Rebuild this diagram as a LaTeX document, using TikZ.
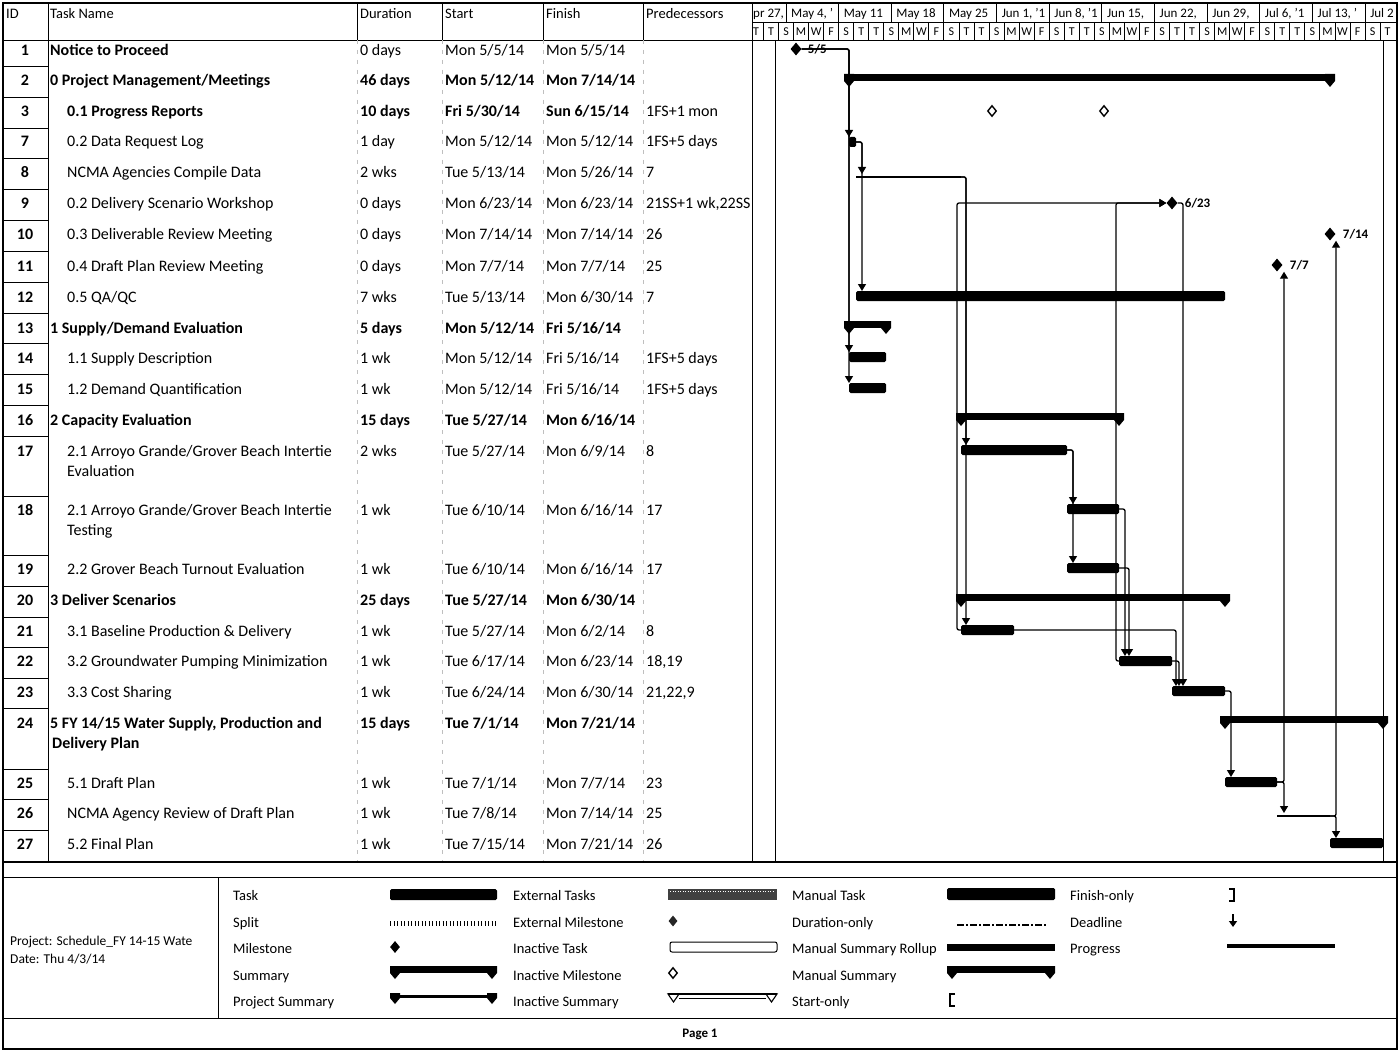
\documentclass[tikz,border=0pt]{standalone}
\usepackage{fontspec}
\setmainfont{Carlito}
\usepackage{tikz}
\usetikzlibrary{shapes.geometric,arrows.meta}

% one table row: id, y, name x, style, name, duration, start, finish, predecessors
\newcommand{\taskrow}[9]{%
  \node[idtxt] (id#1) at (25,#2+5) {#1};
  \node[#4] (name#1) at (#3,#2+5) {#5};
  \node[#4] (dur#1) at (360,#2+5) {#6};
  \node[#4] (start#1) at (445,#2+5) {#7};
  \node[#4] (fin#1) at (546,#2+5) {#8};
  \node[cell] (pred#1) at (646,#2+5) {#9};}
% task bar: name, y, start x, finish x
\newcommand{\taskbar}[4]{%
  \fill[taskbar] (#3,#2-5) rectangle (#4,#2+5);
  \coordinate (#1s) at (#3,#2-5);
  \coordinate (#1w) at (#3,#2);
  \coordinate (#1e) at (#4,#2);}
\newcommand{\thinbar}[4]{%
  \draw[thinbar] (#3,#2) -- (#4,#2);
  \coordinate (#1s) at (#3,#2-3);
  \coordinate (#1e) at (#4,#2);}
% summary bar: y, start x, finish x
\newcommand{\sumbar}[3]{%
  \fill (#2,#1-4) rectangle (#3,#1+3);
  \fill (#2-5,#1-4) -- (#2+5,#1-4) -- (#2+5,#1+3) -- (#2,#1+9) -- (#2-5,#1+3) -- cycle;
  \fill (#3-5,#1-4) -- (#3+5,#1-4) -- (#3+5,#1+3) -- (#3,#1+9) -- (#3-5,#1+3) -- cycle;}

\begin{document}
\begin{tikzpicture}[x=1pt, y=-1pt,
    cell/.style={anchor=base west, inner sep=0pt, font=\fontsize{16}{19}\selectfont},
    bcell/.style={cell, font=\fontsize{16}{19}\selectfont\bfseries},
    idtxt/.style={anchor=base, inner sep=0pt, font=\fontsize{16}{19}\selectfont\bfseries},
    head/.style={anchor=base west, inner sep=0pt, font=\fontsize{14.5}{17}\selectfont},
    tier/.style={anchor=base west, inner sep=0pt, font=\fontsize{13}{15}\selectfont},
    dayl/.style={anchor=base, inner sep=0pt, font=\fontsize{12}{14}\selectfont},
    legtxt/.style={anchor=base west, inner sep=0pt, font=\fontsize{14.5}{17}\selectfont},
    foot/.style={anchor=base west, inner sep=0pt, font=\fontsize{13.5}{16}\selectfont},
    mlabel/.style={anchor=west, inner sep=0pt, font=\fontsize{13}{15}\selectfont\bfseries},
    taskbar/.style={fill=black, rounded corners=1.5pt},
    thinbar/.style={line width=2.4pt},
    link/.style={line width=1.3pt, rounded corners=2pt, -{Triangle[width=8pt,length=7pt]}},
    mile/.style={diamond, fill=black, inner sep=0pt, minimum width=11pt, minimum height=13pt},
    inmile/.style={diamond, draw, line width=1.4pt, inner sep=0pt, minimum width=9pt, minimum height=11pt},
    heavy/.style={line width=1.8pt},
    rule/.style={line width=0.9pt},
    faint/.style={gray!50, line width=0.5pt, dash pattern=on 4pt off 6pt}
]
    \path[use as bounding box, fill=white] (0,0) rectangle (1400,1051);

    % Frame and grid
    \draw[heavy] (3,3) rectangle (1397,1049);
    \draw[rule] (3,40) -- (1397,40);
    \draw[rule] (752,22) -- (1397,22);
    \foreach \cx in {357,442,543,643} \draw[rule] (\cx,3) -- (\cx,40);
    \foreach \cx in {357,442,543,643} \draw[faint] (\cx,40) -- (\cx,862);
    \draw[rule] (48,3) -- (48,862);
    \draw[rule] (752,3) -- (752,862);
    \draw[rule] (775,40) -- (775,862);
    \draw[rule] (1383,40) -- (1383,862);
    \foreach \yy in {66,97,128,158,189,220,251,282,313,343,374,405,436,496,555,586,617,647,678,708,769,799,830}
        \draw[rule] (3,\yy) -- (48,\yy);
    \draw[heavy] (3,862) -- (1397,862);
    \draw[rule] (3,877) -- (1397,877);
    \draw[rule] (218,877) -- (218,1018);
    \draw[rule] (3,1018) -- (1397,1018);

    % Header
    \node[head] (hid) at (6,19) {ID};
    \node[head] (hname) at (50,19) {Task Name};
    \node[head] (hdur) at (360,19) {Duration};
    \node[head] (hstart) at (445,19) {Start};
    \node[head] (hfin) at (546,19) {Finish};
    \node[head] (hpred) at (646,19) {Predecessors};

    % Timescale
    \begin{scope}
        \clip (752,3) rectangle (1397,40);
        \node[tier] (wkA) at (753,18) {pr 27,};
        \foreach \wk [count=\k from 0] in {{May 4, '},{May 11},{May 18},{May 25},{Jun 1, '1},{Jun 8, '1},{Jun 15,},{Jun 22,},{Jun 29,},{Jul 6, '1},{Jul 13, '},{Jul 2}} {
            \draw[rule] ({786+52.64*\k},3) -- ({786+52.64*\k},22);
            \node[tier] (wk\k) at ({791+52.64*\k},18) {\wk};
        }
        \foreach \lt [count=\j from 0] in {T,T,S,M,W,F,S,T,T,S,M,W,F,S,T,T,S,M,W,F,S,T,T,S,M,W,F,S,T,T,S,M,W,F,S,T,T,S,M,W,F,S,T} {
            \draw[rule] ({786+7.52*(2*\j-5)},22) -- ++(0,18);
            \node[dayl] (dy\j) at ({786+7.52*(2*\j-4)},36) {\lt};
        }
    \end{scope}

    % Table rows
    \taskrow{1}{51}{50}{cell}{\bfseries Notice to Proceed}{0 days}{Mon 5/5/14}{Mon 5/5/14}{}
    \taskrow{2}{81}{50}{bcell}{0 Project Management/Meetings}{46 days}{Mon 5/12/14}{Mon 7/14/14}{}
    \taskrow{3}{112}{67}{bcell}{0.1 Progress Reports}{10 days}{Fri 5/30/14}{Sun 6/15/14}{1FS+1 mon}
    \taskrow{7}{142}{67}{cell}{0.2 Data Request Log}{1 day}{Mon 5/12/14}{Mon 5/12/14}{1FS+5 days}
    \taskrow{8}{173}{67}{cell}{NCMA Agencies Compile Data}{2 wks}{Tue 5/13/14}{Mon 5/26/14}{7}
    \taskrow{9}{204}{67}{cell}{0.2 Delivery Scenario Workshop}{0 days}{Mon 6/23/14}{Mon 6/23/14}{21SS+1 wk,22SS}
    \taskrow{10}{235}{67}{cell}{0.3 Deliverable Review Meeting}{0 days}{Mon 7/14/14}{Mon 7/14/14}{26}
    \taskrow{11}{266}{67}{cell}{0.4 Draft Plan Review Meeting}{0 days}{Mon 7/7/14}{Mon 7/7/14}{25}
    \taskrow{12}{297}{67}{cell}{0.5 QA/QC}{7 wks}{Tue 5/13/14}{Mon 6/30/14}{7}
    \taskrow{13}{328}{50}{bcell}{1 Supply/Demand Evaluation}{5 days}{Mon 5/12/14}{Fri 5/16/14}{}
    \taskrow{14}{358}{67}{cell}{1.1 Supply Description}{1 wk}{Mon 5/12/14}{Fri 5/16/14}{1FS+5 days}
    \taskrow{15}{389}{67}{cell}{1.2 Demand Quantification}{1 wk}{Mon 5/12/14}{Fri 5/16/14}{1FS+5 days}
    \taskrow{16}{420}{50}{bcell}{2 Capacity Evaluation}{15 days}{Tue 5/27/14}{Mon 6/16/14}{}
    \taskrow{17}{451}{67}{cell}{2.1 Arroyo Grande/Grover Beach Intertie}{2 wks}{Tue 5/27/14}{Mon 6/9/14}{8}
    \node[cell] (name17b) at (67,476) {Evaluation};
    \taskrow{18}{510}{67}{cell}{2.1 Arroyo Grande/Grover Beach Intertie}{1 wk}{Tue 6/10/14}{Mon 6/16/14}{17}
    \node[cell] (name18b) at (67,535) {Testing};
    \taskrow{19}{569}{67}{cell}{2.2 Grover Beach Turnout Evaluation}{1 wk}{Tue 6/10/14}{Mon 6/16/14}{17}
    \taskrow{20}{600}{50}{bcell}{3 Deliver Scenarios}{25 days}{Tue 5/27/14}{Mon 6/30/14}{}
    \taskrow{21}{631}{67}{cell}{3.1 Baseline Production \& Delivery}{1 wk}{Tue 5/27/14}{Mon 6/2/14}{8}
    \taskrow{22}{661}{67}{cell}{3.2 Groundwater Pumping Minimization}{1 wk}{Tue 6/17/14}{Mon 6/23/14}{18,19}
    \taskrow{23}{692}{67}{cell}{3.3 Cost Sharing}{1 wk}{Tue 6/24/14}{Mon 6/30/14}{21,22,9}
    \taskrow{24}{723}{50}{bcell}{5 FY 14/15 Water Supply, Production and}{15 days}{Tue 7/1/14}{Mon 7/21/14}{}
    \node[bcell] (name24b) at (52,748) {Delivery Plan};
    \taskrow{25}{783}{67}{cell}{5.1 Draft Plan}{1 wk}{Tue 7/1/14}{Mon 7/7/14}{23}
    \taskrow{26}{813}{67}{cell}{NCMA Agency Review of Draft Plan}{1 wk}{Tue 7/8/14}{Mon 7/14/14}{25}
    \taskrow{27}{844}{67}{cell}{5.2 Final Plan}{1 wk}{Tue 7/15/14}{Mon 7/21/14}{26}

    % Summary bars
    \sumbar{78}{849}{1330}
    \sumbar{325}{849}{886}
    \sumbar{417}{961}{1119}
    \sumbar{598}{961}{1225}
    \sumbar{720}{1225}{1383}

    % Task bars
    \taskbar{t7}{142}{849}{856}
    \thinbar{t8}{177}{856}{961}
    \taskbar{t12}{296}{856}{1225}
    \taskbar{t14}{357}{849}{886}
    \taskbar{t15}{388}{849}{886}
    \taskbar{t17}{450}{961}{1067}
    \taskbar{t18}{509}{1067}{1119}
    \taskbar{t19}{568}{1067}{1119}
    \taskbar{t21}{630}{961}{1014}
    \taskbar{t22}{661}{1119}{1172}
    \taskbar{t23}{691}{1172}{1225}
    \taskbar{t25}{782}{1225}{1277}
    \thinbar{t26}{816}{1277}{1330}
    \taskbar{t27}{843}{1330}{1383}

    % Milestones
    \node[mile] (m1) at (796,49) {};
    \node[mile] (m9) at (1172,203) {};
    \node[mile] (m10) at (1330,234) {};
    \node[mile] (m11) at (1277,265) {};
    \node[inmile] (m3a) at (992,111) {};
    \node[inmile] (m3b) at (1104,111) {};

    % Links
    \draw[link] (m1.east) -| (t7s);
    \draw[link] (m1.east) -| (t14s);
    \draw[link] (m1.east) -| (t15s);
    \draw[link] (t7e) -| ([xshift=6pt]t8s);
    \draw[link] (t7e) -| ([xshift=6pt]t12s);
    \draw[link] (t8e) -| ([xshift=5pt]t17s);
    \draw[link] (t8e) -| ([xshift=5pt]t21s);
    \draw[link] (t21w) -- ++(-4,0) |- (m9.west);
    \draw[link] (t22w) -- ++(-3,0) |- (m9.west);
    \draw[link] (m9.east) -| ([xshift=11pt]t23s);
    \draw[link] (t21e) -| ([xshift=4pt]t23s);
    \draw[link] (t22e) -| ([xshift=7pt]t23s);
    \draw[link] (t17e) -| ([xshift=6pt]t18s);
    \draw[link] (t17e) -| ([xshift=6pt]t19s);
    \draw[link] (t18e) -| ([xshift=6pt]t22s);
    \draw[link] (t19e) -| ([xshift=10pt]t22s);
    \draw[link] (t23e) -| ([xshift=6pt]t25s);
    \draw[link] (t25e) -| ([xshift=7pt]t26s);
    \draw[link] (t25e) -| ([xshift=7pt]m11.south);
    \draw[link] (t26e) -| ([xshift=6pt]t27s);
    \draw[link] (t26e) -| ([xshift=6pt]m10.south);

    % Milestone dates
    \node[mlabel] (m1lab) at ([xshift=6pt]m1.east) {5/5};
    \node[mlabel] (m9lab) at ([xshift=7pt]m9.east) {6/23};
    \node[mlabel] (m10lab) at ([xshift=7pt]m10.east) {7/14};
    \node[mlabel] (m11lab) at ([xshift=7pt]m11.east) {7/7};

    % Legend
    \node[foot] (proj) at (10,945) {Project: Schedule\_FY 14-15 Wate};
    \node[foot] (date) at (10,963) {Date: Thu 4/3/14};

    \node[legtxt] (lgtask) at (233,900) {Task};
    \node[legtxt] (lgsplit) at (233,927) {Split};
    \node[legtxt] (lgmile) at (233,953) {Milestone};
    \node[legtxt] (lgsum) at (233,980) {Summary};
    \node[legtxt] (lgproj) at (233,1006) {Project Summary};
    \fill[taskbar] (390,889) rectangle (497,900);
    \draw[line width=5pt, dash pattern=on 1.2pt off 2.3pt] (390,923) -- (496,923);
    \node[mile, minimum width=10pt, minimum height=12pt] (lgm) at (395,947) {};
    \sumbar{970}{395}{492}
    \fill (390,995) rectangle (497,998);
    \fill (390,993) -- (400,993) -- (400,998) -- (395,1004) -- (390,998) -- cycle;
    \fill (487,993) -- (497,993) -- (497,998) -- (492,1004) -- (487,998) -- cycle;

    \node[legtxt] (lgext) at (513,900) {External Tasks};
    \node[legtxt] (lgextm) at (513,927) {External Milestone};
    \node[legtxt] (lginact) at (513,953) {Inactive Task};
    \node[legtxt] (lginm) at (513,980) {Inactive Milestone};
    \node[legtxt] (lgins) at (513,1006) {Inactive Summary};
    \fill[black!75] (668,889) rectangle (777,900);
    \draw[white, line width=1pt, dash pattern=on 1pt off 1.5pt] (670,891) -- (775,891);
    \node[mile, fill=black!85, minimum width=9pt, minimum height=11pt] (lgxm) at (673,921) {};
    \draw[line width=1pt, rounded corners=2pt] (670,942) rectangle (777,952);
    \node[inmile] (lgim) at (673,973) {};
    \draw[line width=1.1pt] (668,994) -- (777,994);
    \draw[line width=1.1pt] (668,994) -- (679,994) -- (673.5,1002) -- cycle;
    \draw[line width=1.1pt] (766,994) -- (777,994) -- (771.5,1002) -- cycle;
    \draw[line width=0.8pt] (679,998) -- (766,998);

    \node[legtxt] (lgman) at (792,900) {Manual Task};
    \node[legtxt] (lgdur) at (792,927) {Duration-only};
    \node[legtxt] (lgroll) at (792,953) {Manual Summary Rollup};
    \node[legtxt] (lgmsum) at (792,980) {Manual Summary};
    \node[legtxt] (lgstart) at (792,1006) {Start-only};
    \fill[taskbar] (947,888) rectangle (1055,900);
    \draw[line width=1.2pt, dash pattern=on 7pt off 2pt on 2pt off 2pt] (957,925) -- (1047,925);
    \fill (947,944) rectangle (1055,951);
    \sumbar{970}{952}{1050}
    \draw[line width=2.6pt] (955,994) -- (950,994) -- (950,1006) -- (955,1006);

    \node[legtxt] (lgfin) at (1070,900) {Finish-only};
    \node[legtxt] (lgdead) at (1070,927) {Deadline};
    \node[legtxt] (lgprog) at (1070,953) {Progress};
    \draw[line width=2.6pt] (1229,889) -- (1234,889) -- (1234,901) -- (1229,901);
    \draw[line width=2.6pt, -{Triangle[width=8pt,length=6pt]}] (1233,914) -- (1233,927);
    \draw[line width=4pt] (1227,946) -- (1335,946);

    % Footer
    \node[font=\fontsize{13}{15}\selectfont\bfseries] (page) at (700,1034) {Page 1};
\end{tikzpicture}
\end{document}
